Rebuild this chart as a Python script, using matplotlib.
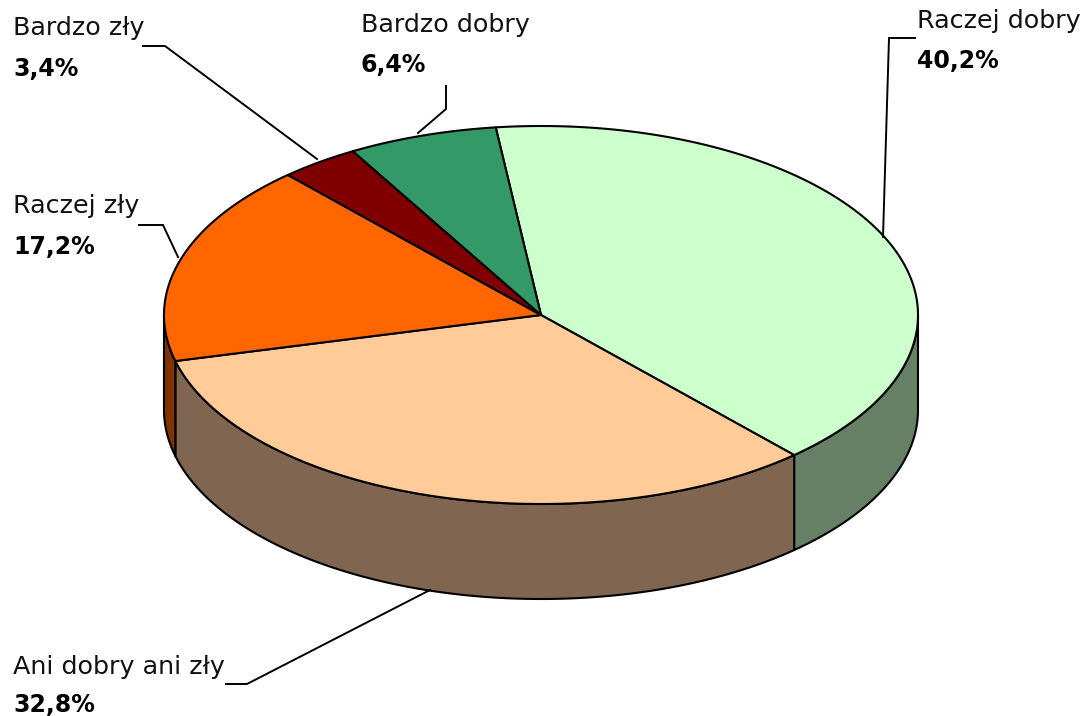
import numpy as np
import matplotlib
matplotlib.use("Agg")
import matplotlib.pyplot as plt
from matplotlib.patches import Polygon

labels = ["Raczej dobry", "Ani dobry ani zły", "Raczej zły", "Bardzo zły", "Bardzo dobry"]
shares = [40.2, 32.8, 17.2, 3.4, 6.4]
value_labels = ["40,2%", "32,8%", "17,2%", "3,4%", "6,4%"]
top_colors = ["#CCFFCC", "#FFCC99", "#FF6600", "#800000", "#339966"]
side_colors = ["#668066", "#806650", "#803300", "#400000", "#1A4D33"]

CX, CY, RX, RY, DEPTH = 541, 315, 377, 189, 95
START = 96.9
FONT = "DejaVu Sans"
FS_NAME = 18.3
FS_VALUE = 17

fig = plt.figure(figsize=(10.87, 7.16), dpi=100)
ax = fig.add_axes([0, 0, 1, 1])
ax.set_xlim(0, 1087)
ax.set_ylim(716, 0)
ax.axis("off")

def pts(a1, a2, dy=0):
    t = np.radians(np.linspace(a1, a2, max(2, int(abs(a2 - a1) * 3))))
    return np.column_stack([CX + RX * np.cos(t), CY - RY * np.sin(t) + dy])

ends = START - np.cumsum(shares) * 3.6
begins = np.r_[START, ends[:-1]]

for b, e, c in zip(begins, ends, side_colors):
    hi = b if b < 0 else 0
    lo = max(e, -180)
    if hi <= -180 or lo >= 0 or hi <= lo:
        continue
    upper = pts(hi, lo)
    lower = pts(lo, hi, DEPTH)
    ax.add_patch(Polygon(np.vstack([upper, lower]), closed=True, fc=c, ec="black", lw=1.5, joinstyle="round"))

for b, e, c in zip(begins, ends, top_colors):
    ax.add_patch(Polygon(np.vstack([[CX, CY], pts(b, e)]), closed=True, fc=c, ec="black", lw=1.5, joinstyle="round"))

leaders = [
    [(883, 237), (889, 38), (915, 38)],
    [(430, 590), (247, 684), (226, 684)],
    [(178, 257), (163, 225), (139, 225)],
    [(317, 159), (165, 46), (143, 46)],
    [(418, 133), (446, 109), (446, 86)],
]
name_baselines = [(917, 28), (13, 674), (13, 213), (13, 35), (361, 32)]
value_baselines = [(917, 68), (13, 712), (13, 254), (13, 76), (361, 72)]
for line, (x, y), (vx, vy), name, val in zip(leaders, name_baselines, value_baselines, labels, value_labels):
    ax.plot(*zip(*line), color="black", lw=1.4, solid_joinstyle="miter")
    ax.text(x, y, name, fontsize=FS_NAME, family=FONT, va="baseline", ha="left", color="#111111")
    ax.text(vx, vy, val, fontsize=FS_VALUE, family=FONT, weight="bold", va="baseline", ha="left", color="black")

fig.savefig("out.png", dpi=100, facecolor="white")
